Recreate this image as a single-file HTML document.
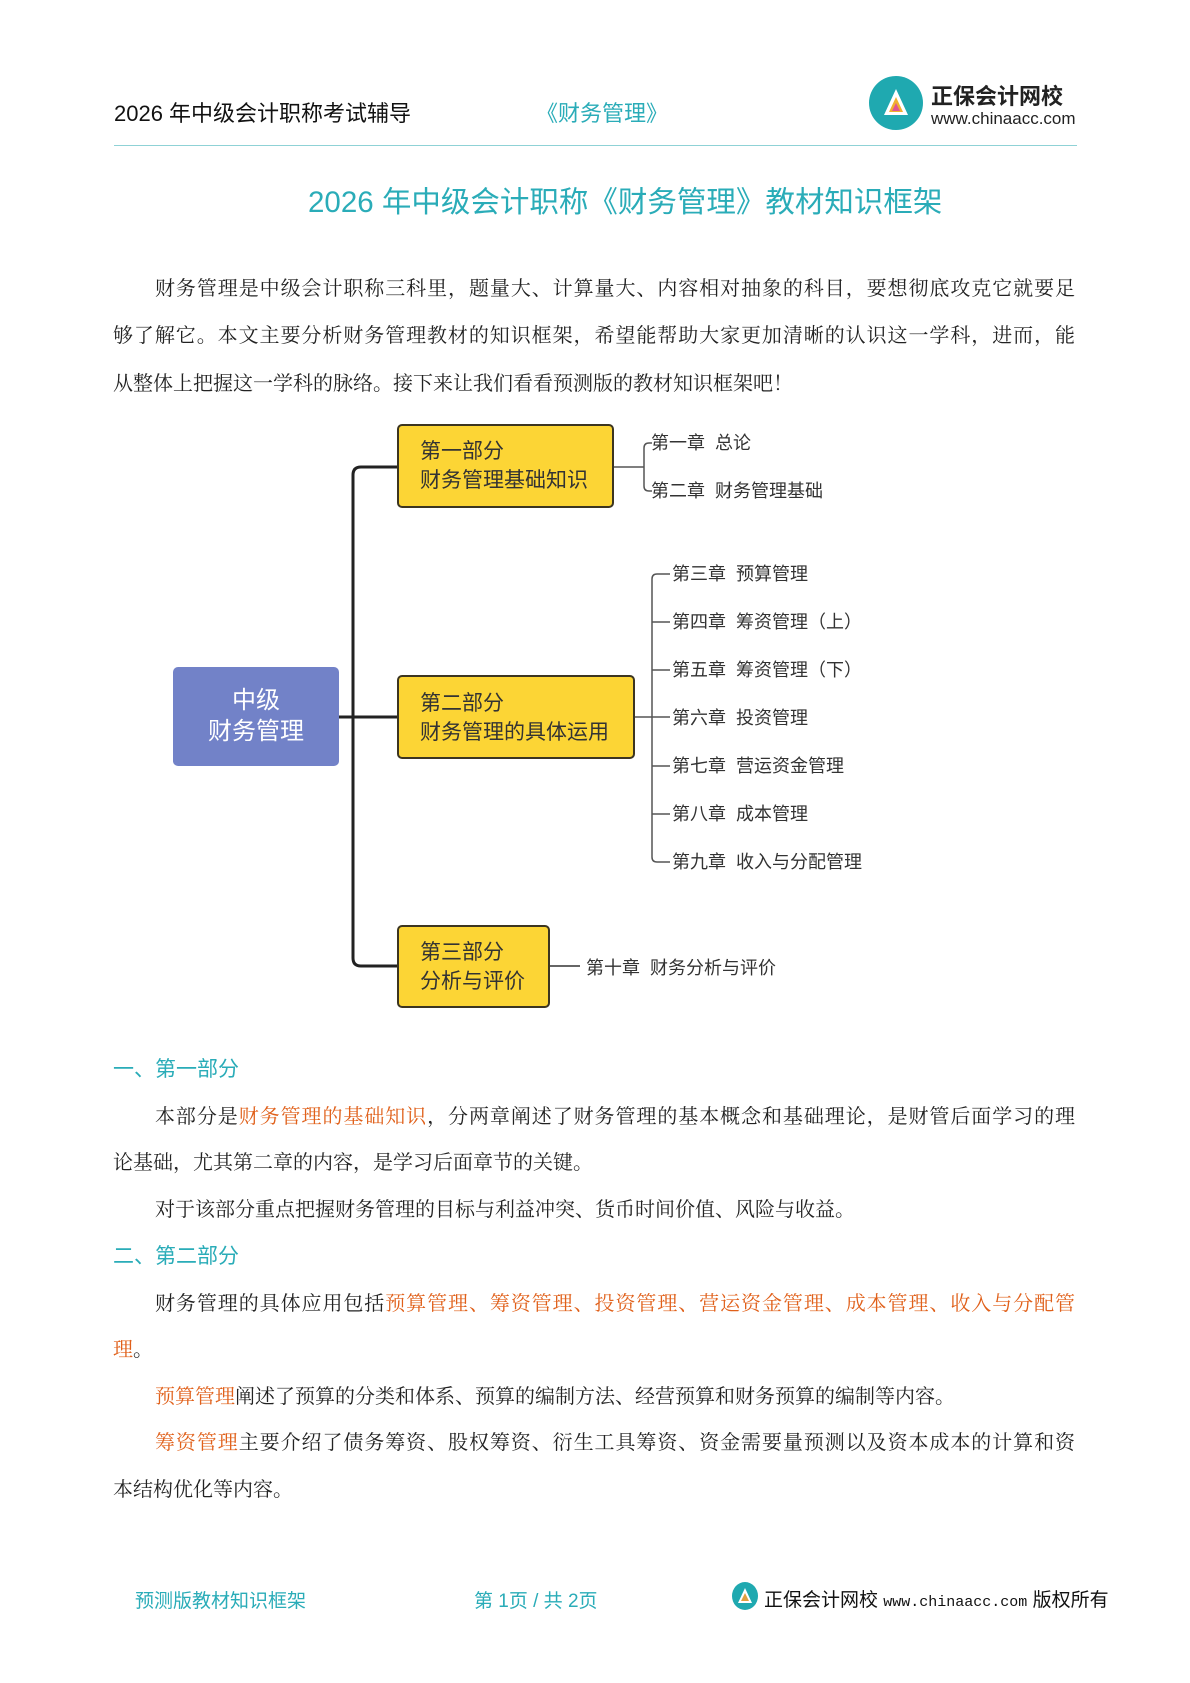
<!DOCTYPE html>
<html><head><meta charset="utf-8"><style>
body{margin:0;background:#fff;}
#p{position:relative;width:1190px;height:1683px;overflow:hidden;background:#fff;font-family:"Liberation Sans","Noto Sans CJK SC",sans-serif;}
.a{position:absolute;white-space:nowrap;}
.t{position:absolute;left:113px;width:962px;font-family:"Liberation Serif","Noto Serif CJK SC",serif;font-size:20px;line-height:26px;height:26px;color:#222;white-space:nowrap;}
.j{text-align:justify;text-align-last:justify;}
.o{color:#e0601a;}
.h{position:absolute;left:113px;font-size:21px;color:#2aacb8;line-height:26px;}
.box{position:absolute;background:#fcd535;border:2px solid #3c3520;border-radius:5px;box-sizing:border-box;font-size:21px;color:#333;line-height:29px;padding-left:21px;}
.c{position:absolute;font-size:18px;color:#333;line-height:22px;white-space:nowrap;}
</style></head><body><div id="p">
<div class="a" style="left:114px;top:96px;font-size:22px;color:#111;">2026 年中级会计职称考试辅导</div>
<div class="a" style="left:536px;top:96px;font-size:22px;color:#2aacb8;">《财务管理》</div>
<svg class="a" style="left:868px;top:75px" width="56" height="56"><circle cx="28" cy="28" r="27" fill="#1fa9b0"/><path d="M16 40 L28 14 L40 40 Z" fill="#fff"/><path d="M21 37 L28 22 L35 37 Z" fill="#f0b030"/><path d="M24 36 L28 28 L32 36Z" fill="#e05590"/></svg>
<div class="a" style="left:931px;top:79px;font-size:22px;font-weight:bold;color:#222;">正保会计网校</div>
<div class="a" style="left:931px;top:109px;font-size:17px;color:#222;">www.chinaacc.com</div>
<div class="a" style="left:114px;top:145px;width:963px;height:1px;background:#8fd2d6;"></div>
<div class="a" style="left:308px;top:179px;font-size:29.5px;color:#2aacb8;">2026 年中级会计职称《财务管理》教材知识框架</div>

<div class="t j" style="top:276px;padding-left:42px;width:920px;">财务管理是中级会计职称三科里，题量大、计算量大、内容相对抽象的科目，要想彻底攻克它就要足</div>
<div class="t j" style="top:323px;">够了解它。本文主要分析财务管理教材的知识框架，希望能帮助大家更加清晰的认识这一学科，进而，能</div>
<div class="t" style="top:371px;">从整体上把握这一学科的脉络。接下来让我们看看预测版的教材知识框架吧！</div>

<svg class="a" style="left:0;top:0" width="1190" height="1100" fill="none">
<path d="M397 467 H361 Q353 467 353 475 V958 Q353 966 361 966 H397" stroke="#222" stroke-width="3"/>
<path d="M337 717 H397" stroke="#222" stroke-width="3"/>
<path d="M614 467 H644 M652 443 H649 Q644 443 644 448 V486 Q644 491 649 491 H652" stroke="#555" stroke-width="1.5"/>
<path d="M635 717 H670 M670 574 H657 Q652 574 652 579 V857 Q652 862 657 862 H670 M652 622 H670 M652 670 H670 M652 766 H670 M652 814 H670" stroke="#555" stroke-width="1.5"/>
<path d="M550 966 H580" stroke="#666" stroke-width="2"/>
</svg>
<div class="a" style="left:173px;top:667px;width:166px;height:99px;background:#7282c8;border-radius:5px;color:#fff;font-size:24px;line-height:31px;text-align:center;padding-top:18px;box-sizing:border-box;">中级<br>财务管理</div>
<div class="box" style="left:397px;top:424px;width:217px;height:84px;padding-top:11px;">第一部分<br>财务管理基础知识</div>
<div class="box" style="left:397px;top:675px;width:238px;height:84px;padding-top:12px;">第二部分<br>财务管理的具体运用</div>
<div class="box" style="left:397px;top:925px;width:153px;height:83px;padding-top:11px;">第三部分<br>分析与评价</div>
<div class="c" style="left:651px;top:432px;">第一章&nbsp; 总论</div>
<div class="c" style="left:651px;top:480px;">第二章&nbsp; 财务管理基础</div>
<div class="c" style="left:672px;top:563px;">第三章&nbsp; 预算管理</div>
<div class="c" style="left:672px;top:611px;">第四章&nbsp; 筹资管理（上）</div>
<div class="c" style="left:672px;top:659px;">第五章&nbsp; 筹资管理（下）</div>
<div class="c" style="left:672px;top:707px;">第六章&nbsp; 投资管理</div>
<div class="c" style="left:672px;top:755px;">第七章&nbsp; 营运资金管理</div>
<div class="c" style="left:672px;top:803px;">第八章&nbsp; 成本管理</div>
<div class="c" style="left:672px;top:851px;">第九章&nbsp; 收入与分配管理</div>
<div class="c" style="left:586px;top:957px;">第十章&nbsp; 财务分析与评价</div>

<div class="h" style="top:1057px;">一、第一部分</div>
<div class="t j" style="top:1104px;padding-left:42px;width:920px;">本部分是<span class="o">财务管理的基础知识</span>，分两章阐述了财务管理的基本概念和基础理论，是财管后面学习的理</div>
<div class="t" style="top:1150px;">论基础，尤其第二章的内容，是学习后面章节的关键。</div>
<div class="t" style="top:1197px;padding-left:42px;">对于该部分重点把握财务管理的目标与利益冲突、货币时间价值、风险与收益。</div>
<div class="h" style="top:1244px;">二、第二部分</div>
<div class="t j" style="top:1291px;padding-left:42px;width:920px;">财务管理的具体应用包括<span class="o">预算管理、筹资管理、投资管理、营运资金管理、成本管理、收入与分配管</span></div>
<div class="t" style="top:1337px;"><span class="o">理</span>。</div>
<div class="t" style="top:1384px;padding-left:42px;"><span class="o">预算管理</span>阐述了预算的分类和体系、预算的编制方法、经营预算和财务预算的编制等内容。</div>
<div class="t j" style="top:1430px;padding-left:42px;width:920px;"><span class="o">筹资管理</span>主要介绍了债务筹资、股权筹资、衍生工具筹资、资金需要量预测以及资本成本的计算和资</div>
<div class="t" style="top:1477px;">本结构优化等内容。</div>

<div class="a" style="left:135px;top:1586px;font-size:19px;color:#2aacb8;">预测版教材知识框架</div>
<div class="a" style="left:474px;top:1586px;font-size:19px;color:#2aacb8;">第 1页 / 共 2页</div>
<svg class="a" style="left:731px;top:1581px" width="28" height="30"><ellipse cx="14" cy="15" rx="13" ry="14" fill="#1fa9b0"/><path d="M7 22 L14 7 L21 22Z" fill="#fff"/><path d="M10 20 L14 12 L18 20Z" fill="#e0a040"/></svg>
<div class="a" style="left:764px;top:1585px;font-size:19px;color:#111;">正保会计网校 <span style="font-family:'Liberation Mono',monospace;font-size:15px;">www.chinaacc.com</span> 版权所有</div>
</div></body></html>
